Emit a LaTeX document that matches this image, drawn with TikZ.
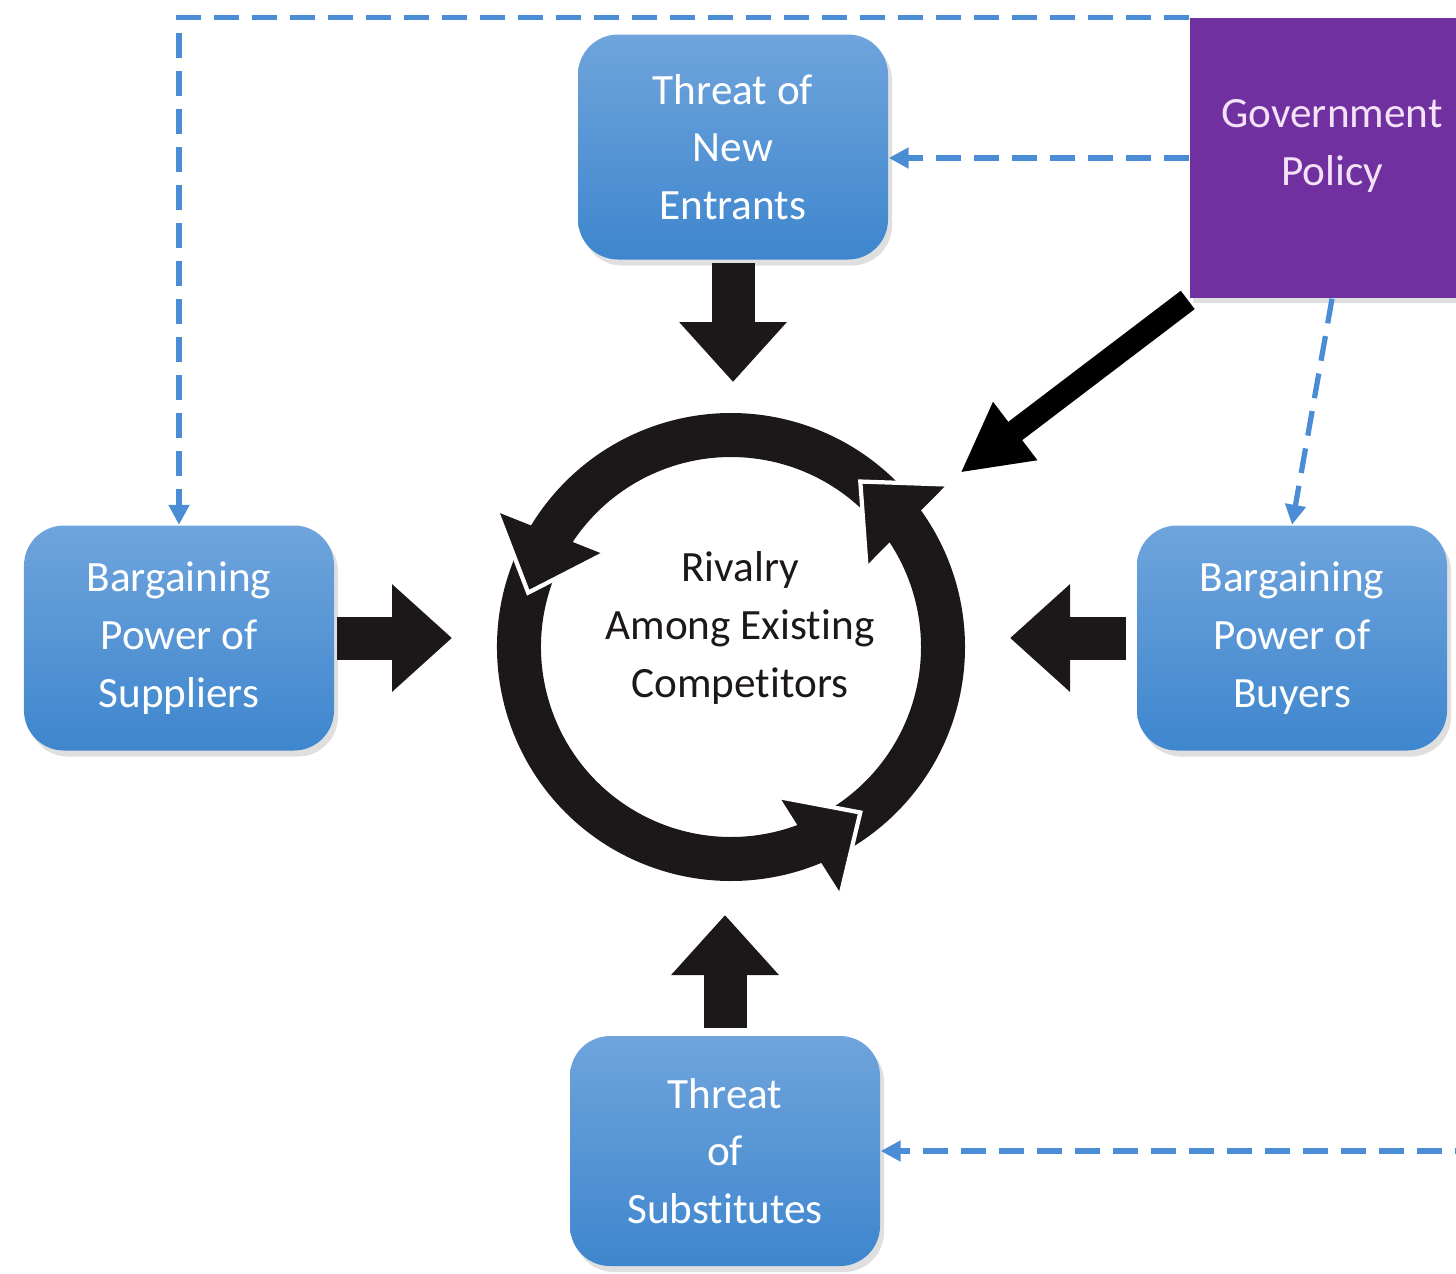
\documentclass[tikz,border=0pt]{standalone}
\usepackage{fontspec}
\setmainfont[Ligatures=NoCommon]{Carlito}
\definecolor{boxtop}{RGB}{111,164,220}
\definecolor{boxbottom}{RGB}{62,134,206}
\definecolor{policy}{RGB}{112,48,160}
\definecolor{policytext}{RGB}{244,226,246}
\definecolor{dashblue}{RGB}{74,141,212}
\definecolor{ringblack}{RGB}{28,24,26}
\usetikzlibrary{
	arrows.meta,
	calc,
	shadows
}
\tikzset{
  % node
	pfbox/.style   ={rounded corners=0.4cm, top color=boxtop, bottom color=boxbottom, text=white,
	                 minimum width=3.1cm, minimum height=2.25cm, align=center,
	                 font=\fontsize{12.3}{16.4}\selectfont,
	                 drop shadow={opacity=0.25, shadow xshift=0.04cm, shadow yshift=-0.06cm}},
	pfgov/.style   ={fill=policy, minimum width=2.84cm, minimum height=2.8cm,
	                 drop shadow={opacity=0.25, shadow xshift=0.03cm, shadow yshift=-0.05cm}},
	pftext/.style  ={align=center, font=\fontsize{12.3}{16.4}\selectfont},
  % arrow
	pfpush/.style  ={draw=ringblack, line width=0.43cm, -{Triangle[length=0.6cm,width=1.04cm]}}, % block arrow
	pfpolicy/.style={draw=black, line width=0.23cm, -{Triangle[length=0.69cm,width=0.68cm]}},
	pfdash/.style  ={draw=dashblue, line width=1.5pt, dash pattern=on 0.25cm off 0.13cm,
	                 -{Triangle[length=0.2cm,width=0.2cm]}},
  % ring
	pfring/.style  ={draw=ringblack, line width=0.44cm},
	pfhead/.style  ={fill=ringblack},
	pfedge/.style  ={draw=white, line width=1.2pt}
}
\begin{document}
\begin{tikzpicture}
	\useasboundingbox (0,0) rectangle (14.56,-12.73);
	\clip (0,0) rectangle (14.56,-12.73);
	% forces
	\node[pfbox] (ent) at (7.33,-1.47) {Threat of\\New\\Entrants};
	\node[pfbox] (sup) at (1.79,-6.38) {Bargaining\\Power of\\Suppliers};
	\node[pfbox] (buy) at (12.92,-6.38) {Bargaining\\Power of\\Buyers};
	\node[pfbox, minimum height=2.3cm] (sub) at (7.25,-11.51) {Threat\\of\\Substitutes};
	\node[pfgov] (gov) at (13.32,-1.58) {};
	\node[pftext, text=policytext] (govtext) at (13.32,-1.46) {Government\\Policy};
	\coordinate (rc) at (7.31,-6.47);
	% rivalry ring
	\begin{scope}[shift={(rc)}]
		\draw[pfring] (40:2.12) arc[start angle=40, end angle=150, radius=2.12];
		\draw[pfring] (155:2.12) arc[start angle=155, end angle=294, radius=2.12];
		\draw[pfring] (296:2.12) arc[start angle=296, end angle=397, radius=2.12];
		\foreach \b/\t in {147/165, 291/308, 34/52}{
			\fill[pfhead] (\b+3:2.7) -- (\t:2.1) -- (\b-3:1.58) -- cycle;
			\draw[pfedge] (\b+3:2.7) -- (\t:2.1) -- (\b-3:1.58);
		}
	\end{scope}
	\node[pftext, text=ringblack] (riv) at (7.40,-6.28) {Rivalry\\Among Existing\\Competitors};
	% forces push on the ring
	\draw[pfpush, shorten <=0.03cm, shorten >=2.65cm] (ent.south) -- (ent.south |- rc);
	\draw[pfpush, shorten <=0.02cm, shorten >=2.79cm] (sup.east) -- (sup.east -| rc);
	\draw[pfpush, shorten <=0.10cm, shorten >=2.79cm] (buy.west) -- (buy.west -| rc);
	\draw[pfpush, shorten <=0.07cm, shorten >=2.68cm] (sub.north) -- (sub.north |- rc);
	\draw[pfpolicy, shorten <=0.02cm, shorten >=2.88cm] (gov.south west) -- (rc);
	% policy links
	\draw[pfdash] (gov.north west) -| (sup.north);
	\draw[pfdash] (gov.west) -- (gov.west -| ent.east);
	\draw[pfdash] (gov.south) -- (buy.north);
	\draw[pfdash] (gov.east) |- (sub.east);
\end{tikzpicture}
\end{document}
